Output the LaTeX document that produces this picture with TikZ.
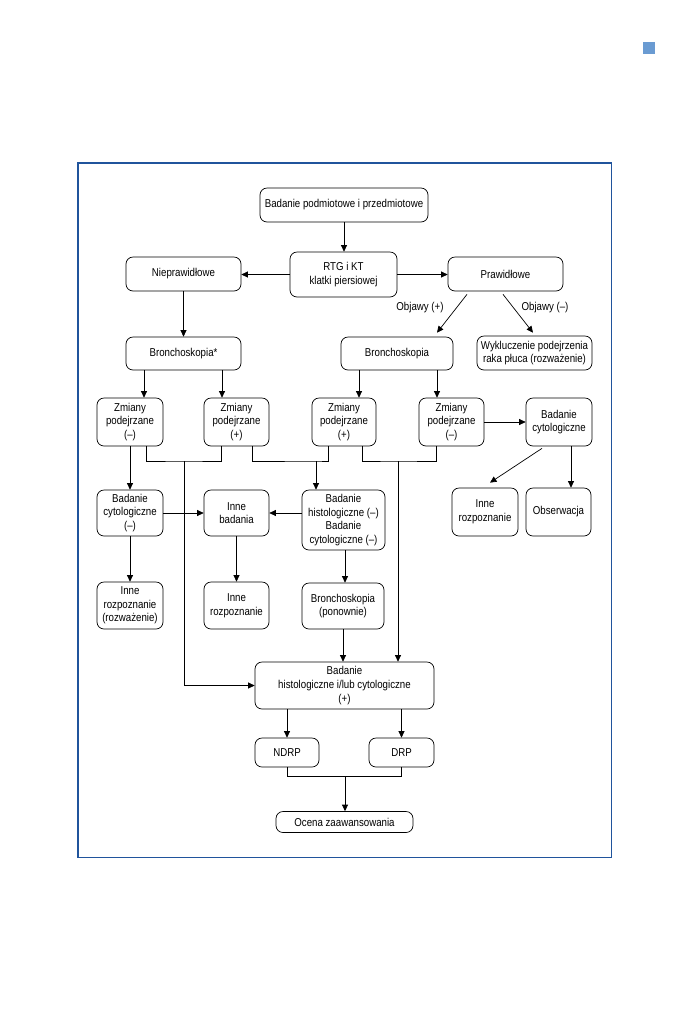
\documentclass[tikz,border=0pt]{standalone}
\usepackage{fontspec}
\setmainfont[FakeStretch=0.85]{Liberation Sans}
\usetikzlibrary{arrows.meta}
\definecolor{frameblue}{RGB}{32,84,156}
\definecolor{sqblue}{RGB}{106,155,210}
\newcommand\flbox[6]{\node[box,minimum width=#4pt,minimum height=#5pt] (#1) at (#2,#3) {#6};}
\begin{document}
\begin{tikzpicture}[x=1pt,y=-1pt,
  box/.style={draw, rounded corners=7pt, line width=0.7pt, align=center, inner sep=1pt,
              font=\fontsize{11.4}{13.7}\selectfont},
  arr/.style={-{Triangle[length=6.5pt,width=6pt]}, line width=0.7pt},
  ln/.style={line width=0.7pt},
  lbl/.style={font=\fontsize{11.4}{13.7}\selectfont, inner sep=0pt}]
\useasboundingbox (0,0) rectangle (698,1013);
\fill[sqblue] (643,42) rectangle (655,54);
\draw[frameblue, line width=1.2pt] (78,163) rectangle (611.5,857.5);

\flbox{top}{344}{205}{168}{34}{Badanie podmiotowe i przedmiotowe}
\flbox{rtg}{343.5}{274.5}{107}{45}{RTG i KT\\klatki piersiowej}
\flbox{niep}{183.5}{274}{115}{34}{Nieprawidłowe}
\flbox{praw}{505.5}{274}{115}{34}{Prawidłowe}
\flbox{br1}{183.5}{353.5}{115}{33}{Bronchoskopia*}
\flbox{br2}{397}{353.5}{112}{33}{Bronchoskopia}
\flbox{wyk}{534.5}{353}{115}{34}{Wykluczenie podejrzenia\\raka płuca (rozważenie)}
\flbox{z1}{130}{422}{66}{48}{Zmiany\\podejrzane\\(–)}
\flbox{z2}{236.5}{422}{65}{48}{Zmiany\\podejrzane\\(+)}
\flbox{z3}{344}{422}{64}{48}{Zmiany\\podejrzane\\(+)}
\flbox{z4}{451.5}{422}{65}{48}{Zmiany\\podejrzane\\(–)}
\flbox{bc}{559}{422}{66}{48}{Badanie\\cytologiczne}
\flbox{bcm}{130}{513}{66}{46}{Badanie\\cytologiczne\\(–)}
\flbox{ib}{236.5}{513}{65}{46}{Inne\\badania}
\flbox{bh}{343.5}{520}{83}{60}{Badanie\\histologiczne (–)\\Badanie\\cytologiczne (–)}
\flbox{ir}{485}{512}{66}{48}{Inne\\rozpoznanie}
\flbox{obs}{558.5}{512}{65}{48}{Obserwacja}
\flbox{ir1}{130}{605.5}{66}{47}{Inne\\rozpoznanie\\(rozważenie)}
\flbox{ir2}{236.5}{605.5}{65}{47}{Inne\\rozpoznanie}
\flbox{bp}{343}{606}{82}{46}{Bronchoskopia\\(ponownie)}
\flbox{fin}{344.5}{685.5}{179}{47}{Badanie\\histologiczne i/lub cytologiczne\\(+)}
\flbox{ndrp}{287}{752.5}{64}{29}{NDRP}
\flbox{drp}{401.5}{752.5}{65}{29}{DRP}
\flbox{oc}{344.5}{822}{137}{21}{Ocena zaawansowania}

\node[lbl] (lplus) at (420,308) {Objawy (+)};
\node[lbl] (lminus) at (545,308) {Objawy (–)};

% column helpers
\coordinate (c144) at (144,0);
\coordinate (c222) at (222,0);
\coordinate (c359) at (359,0);
\coordinate (c437) at (437,0);
\coordinate (c571) at (571,0);
\coordinate (c345) at (345,0);
\coordinate (c146) at (146,0);
\coordinate (c221) at (221,0);
\coordinate (c252) at (252,0);
\coordinate (c328) at (328,0);
\coordinate (c362) at (362,0);
\coordinate (c436) at (436,0);
\coordinate (jA) at (184,461);
\coordinate (jB) at (316,461);
\coordinate (jC) at (398,461);
\coordinate (jD) at (345,776);

\draw[arr] (top.south) -- (top.south |- rtg.north);
\draw[arr] (rtg.west) -- (rtg.west -| niep.east);
\draw[arr] (rtg.east) -- (rtg.east -| praw.west);
\draw[arr] (niep.south) -- (br1.north);
\draw[arr] ([xshift=-38.5pt,yshift=-3pt]praw.south) -- ([xshift=40pt,yshift=4pt]br2.north);
\draw[arr] ([xshift=-2.5pt,yshift=-3pt]praw.south) -- ([xshift=-1.5pt,yshift=3pt]wyk.north);
\draw[arr] (br1.south -| c144) -- (z1.north -| c144);
\draw[arr] (br1.south -| c222) -- (z2.north -| c222);
\draw[arr] (br2.south -| c359) -- (z3.north -| c359);
\draw[arr] (br2.south -| c437) -- (z4.north -| c437);
\draw[arr] (z4.east) -- (bc.west);
\draw[arr] ([xshift=-17pt,yshift=-2pt]bc.south) -- ([xshift=5pt,yshift=5pt]ir.north);
\draw[arr] (bc.south -| c571) -- (obs.north -| c571);
\draw[arr] (z1.south) -- (bcm.north);
\draw[arr] (bcm.east) -- (ib.west);
\draw[arr] (bh.west |- ib.east) -- (ib.east);
\draw[arr] (bcm.south) -- (ir1.north);
\draw[arr] (ib.south) -- (ir2.north);
\draw[arr] (bh.south -| c345) -- (bp.north -| c345);
\draw[arr] (bp.south) -- (bp.south |- fin.north);
\draw[ln] (z1.south -| c146) |- (jA) -| (z2.south -| c221);
\draw[arr] (jA) |- (fin.west);
\draw[ln] (z2.south -| c252) |- (jB) -| (z3.south -| c328);
\draw[arr] (jB) -- (bh.north -| jB);
\draw[ln] (z3.south -| c362) |- (jC) -| (z4.south -| c436);
\draw[arr] (jC) -- (fin.north -| jC);
\draw[arr] (fin.south -| ndrp.south) -- (ndrp.north);
\draw[arr] (fin.south -| drp.south) -- (drp.north);
\draw[ln] (ndrp.south) |- (jD) -| (drp.south);
\draw[arr] (jD) -- (oc.north -| jD);
\end{tikzpicture}
\end{document}
